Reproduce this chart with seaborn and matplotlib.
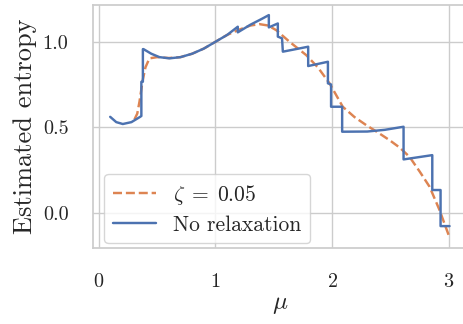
import numpy as np
import pandas as pd
import matplotlib
matplotlib.use("Agg")
import matplotlib.pyplot as plt
import seaborn as sns

# No relaxation (blue, with jumps)
mu_raw = [0.098, 0.15, 0.206, 0.28, 0.355, 0.365, 0.365, 0.378, 0.378, 0.383,
          0.45, 0.52, 0.606, 0.70, 0.80, 0.90, 1.0, 1.10, 1.191, 1.191,
          1.30, 1.40, 1.457, 1.457, 1.534, 1.534, 1.57, 1.577,
          1.794, 1.794, 1.963, 1.963, 1.99, 1.99, 2.085, 2.085,
          2.30, 2.45, 2.611, 2.611, 2.857, 2.857, 2.928, 2.928, 3.005]
h_raw = [0.561, 0.53, 0.519, 0.53, 0.561, 0.566, 0.766, 0.766, 0.957, 0.957,
         0.93, 0.91, 0.903, 0.91, 0.93, 0.96, 1.0, 1.04, 1.088, 1.055,
         1.10, 1.135, 1.156, 1.084, 1.107, 1.03, 1.02, 0.942,
         0.971, 0.858, 0.883, 0.757, 0.75, 0.62, 0.62, 0.474,
         0.475, 0.485, 0.503, 0.312, 0.337, 0.133, 0.133, -0.078, -0.078]

# zeta = 0.05 (orange, smooth)
mu_rel = [0.306, 0.33, 0.349, 0.377, 0.40, 0.434, 0.50, 0.60, 0.70, 0.80, 0.90,
          1.0, 1.10, 1.20, 1.30, 1.377, 1.45, 1.52, 1.634, 1.777, 1.877,
          1.977, 2.09, 2.19, 2.29, 2.39, 2.49, 2.58, 2.662, 2.75, 2.834,
          2.919, 2.997]
h_rel = [0.546, 0.58, 0.65, 0.776, 0.85, 0.903, 0.91, 0.905, 0.91, 0.93, 0.96,
         1.0, 1.04, 1.07, 1.095, 1.103, 1.095, 1.068, 1.0, 0.922, 0.85,
         0.757, 0.62, 0.56, 0.513, 0.47, 0.425, 0.38, 0.327, 0.24, 0.152,
         0.016, -0.13]

sns.set_theme(style="whitegrid")
plt.rcParams['font.family'] = ['cmr10', 'DejaVu Serif']
plt.rcParams['mathtext.fontset'] = 'cm'
plt.rcParams['axes.formatter.use_mathtext'] = True
plt.rcParams['axes.unicode_minus'] = False

fig = plt.figure(figsize=(4.64, 3.24), dpi=100)
ax = fig.add_axes([0.2015, 0.2346, 0.8026, 0.75])

df_rel = pd.DataFrame({"mu": mu_rel, "h": h_rel})
df_raw = pd.DataFrame({"mu": mu_raw, "h": h_raw})
sns.lineplot(data=df_rel, x="mu", y="h", ax=ax, color="#dd8452", lw=1.75,
             linestyle="--", label=r"$\zeta\;=\;0.05$", estimator=None, sort=False)
sns.lineplot(data=df_raw, x="mu", y="h", ax=ax, color="#4c72b0", lw=1.75,
             label="No relaxation", estimator=None, sort=False)

ax.set_xlim(-0.045, 3.145)
ax.set_ylim(-0.206, 1.215)
ax.set_xticks([0, 1, 2, 3])
ax.set_yticks([0.0, 0.5, 1.0])
ax.set_yticklabels(["0.0", "0.5", "1.0"])
ax.tick_params(labelsize=14.5)
ax.tick_params(axis="y", pad=12)
ax.tick_params(axis="x", pad=12)
ax.set_xlabel(r"$\mu$", fontsize=18, labelpad=2)
ax.set_ylabel("Estimated entropy", fontsize=19, labelpad=4)
ax.legend(loc="lower left", fontsize=15.5, labelspacing=0.4,
          bbox_to_anchor=(0, -0.025))

fig.savefig("out.png", dpi=100)
